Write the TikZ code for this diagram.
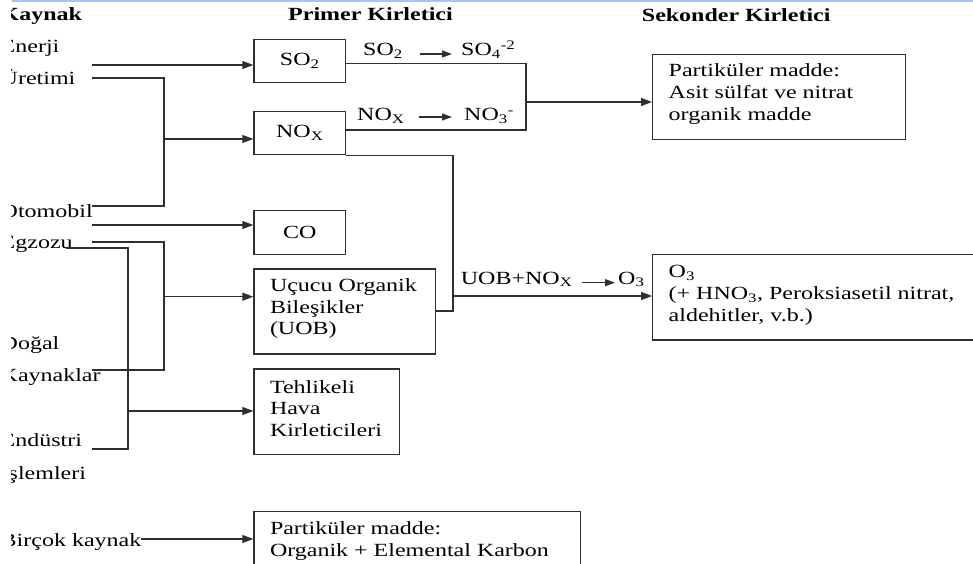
\documentclass[tikz,border=0pt]{standalone}
\usepackage{fontspec}
\setmainfont[FakeStretch=1.29]{Liberation Serif}
\usetikzlibrary{arrows.meta}
\definecolor{lc}{HTML}{2E2E2E}
\definecolor{topblue}{RGB}{170,196,238}
\newcommand{\fs}{\fontsize{18.6pt}{21.6pt}\selectfont}
\begin{document}
\begin{tikzpicture}[x=1pt,y=-1pt,
  every node/.style={inner sep=0pt, font=\fs},
  txt/.style={anchor=base west},
  hdr/.style={anchor=base west, font=\fs\bfseries},
  box/.style={draw=lc, line width=1.2pt, anchor=north west},
  lbl/.style={anchor=west, align=left, xshift=16.5pt, font=\fs},
  conn/.style={draw=lc, line width=1.2pt},
  arr/.style={conn, -{Triangle[length=11pt,width=8pt]}},
  sarr/.style={conn, -{Triangle[length=10pt,width=7pt]}}]
\useasboundingbox (0,0) rectangle (973,564);
\clip (11.7,0) rectangle (973,564);
\draw[topblue, line width=1.6pt] (0,0.8) -- (973,0.8);

% headers
\node[hdr] (h1) at (0.5,21) {Kaynak};
\node[hdr] (h2) at (288,21) {Primer Kirletici};
\node[hdr] (h3) at (641.7,21.5) {Sekonder Kirletici};

% sources
\node[txt] (t1) at (0.5,53) {Enerji};
\node[txt] (t2) at (0.5,85) {Üretimi};
\node[txt] (t3) at (0.5,217) {Otomobil};
\node[txt] (t4) at (0.5,248) {Egzozu};
\node[txt] (t5) at (0.5,349) {Doğal};
\node[txt] (t6) at (0.5,381.5) {Kaynaklar};
\node[txt] (t7) at (0.5,446.5) {Endüstri};
\node[txt] (t8) at (0.5,479) {İşlemleri};
\node[txt] (t9) at (0.5,546) {Birçok kaynak};

% primary boxes
\node[box, minimum width=91.7pt, minimum height=43pt] (so2) at (253.3,39) {SO\textsubscript{2}};
\node[box, minimum width=91.7pt, minimum height=43pt] (nox) at (253.3,111) {NO\textsubscript{X}};
\node[box, minimum width=91.7pt, minimum height=44pt] (co) at (253.3,210) {CO};
\node[box, minimum width=181.7pt, minimum height=85pt,
  label={[lbl, yshift=2.5pt]west:{Uçucu Organik\\Bileşikler\\(UOB)}}] (uob) at (253.3,268.3) {};
\node[box, minimum width=145.7pt, minimum height=85.7pt,
  label={[lbl, yshift=3.5pt]west:{Tehlikeli\\Hava\\Kirleticileri}}] (tehl) at (253.3,368.3) {};
\node[box, minimum width=326.7pt, minimum height=70pt,
  label={[lbl, yshift=5pt]west:{Partiküler madde:\\Organik + Elemental Karbon}}] (pm2) at (253.3,510.7) {};

% secondary boxes
\node[box, minimum width=253pt, minimum height=85pt,
  label={[lbl, yshift=3pt]west:{Partiküler madde:\\Asit sülfat ve nitrat\\organik madde}}] (pm1) at (652,54) {};
\node[box, minimum width=340pt, minimum height=85.3pt,
  label={[lbl, yshift=2pt]west:{O\textsubscript{3}\\(+ HNO\textsubscript{3}, Peroksiasetil nitrat,\\aldehitler, v.b.)}}] (o3box) at (652,254) {};

% reaction labels
\node[txt] (l1) at (363,56) {SO\textsubscript{2}};
\node[txt] (l2) at (461,56) {SO\textsubscript{4}\textsuperscript{-2}};
\node[txt] (l3) at (357,121) {NO\textsubscript{X}};
\node[txt] (l4) at (464,121) {NO\textsubscript{3}\textsuperscript{-}};
\node[txt] (l5) at (460.7,284) {UOB+NO\textsubscript{X}};
\node[txt] (l6) at (618,284) {O\textsubscript{3}};
\draw[sarr, shorten <=17pt, shorten >=9pt] (l1.east |- 0,54) -- (l2.west |- 0,54);
\draw[sarr, shorten <=14pt, shorten >=12pt] (l3.east |- 0,117) -- (l4.west |- 0,117);
\draw[sarr, shorten <=9pt, shorten >=3pt] (l5.east |- 0,282.7) -- (l6.west |- 0,282.7);

% source connectors
\coordinate (s1) at (92,65);
\draw[arr] (s1) -- (so2.west |- s1);
\coordinate (s2) at (92,78);
\coordinate (s3) at (92,206);
\coordinate (j1) at (164,139);
\draw[conn] (s2) -| (j1) |- (s3);
\draw[arr] (j1) -- (nox.west |- j1);
\coordinate (s4) at (92,225);
\draw[arr] (s4) -- (co.west |- s4);
\coordinate (s5) at (92,242);
\coordinate (s6) at (92,370);
\coordinate (j2) at (164,296.7);
\draw[conn] (s5) -| (j2) |- (s6);
\draw[arr] (j2) -- (uob.west |- j2);
\coordinate (s7) at (66,248);
\coordinate (s8) at (92,449);
\coordinate (j3) at (128,411);
\draw[conn] (s7) -| (j3) |- (s8);
\draw[arr] (j3) -- (tehl.west |- j3);
\draw[arr] (t9.east |- 0,539) -- (pm2.west |- 0,539);

% primary to secondary
\coordinate (j4) at (526,102);
\draw[conn] (so2.east |- 0,63.3) -| (j4) |- (nox.east |- 0,130);
\draw[arr] (j4) -- (pm1.west |- j4);
\coordinate (j5) at (453,296);
\draw[conn] (nox.south east) -| (j5) |- (uob.east |- 0,311);
\draw[arr] (j5) -- (o3box.west |- j5);
\end{tikzpicture}
\end{document}
